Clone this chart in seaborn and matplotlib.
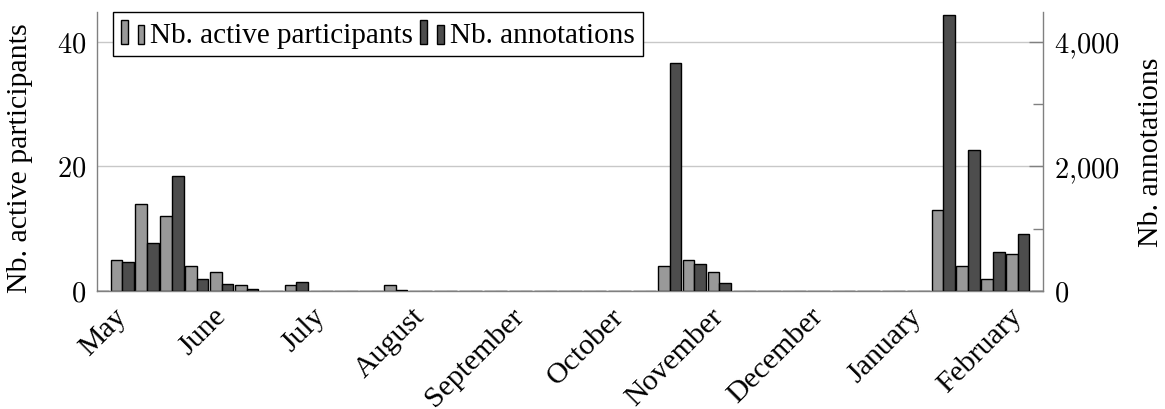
import numpy as np
import pandas as pd
import matplotlib
matplotlib.use("Agg")
import matplotlib.pyplot as plt
import seaborn as sns
from matplotlib.patches import Rectangle
from matplotlib.legend_handler import HandlerBase
from matplotlib.ticker import FuncFormatter

# ---------------- data ----------------
weeks = list(range(39))
participants = [0, 5, 14, 12, 4, 3, 1, 0, 1, 0, 0, 0, 1,
                0, 0, 0, 0, 0, 0, 0, 0, 0, 0,
                4, 5, 3,
                0, 0, 0, 0, 0, 0, 0, 0,
                13, 4, 2, 6, 0]
annotations = [0, 465, 775, 1840, 197, 117, 32, 0, 142, 0, 0, 0, 10,
               0, 0, 0, 0, 0, 0, 0, 0, 0, 0,
               3655, 435, 123,
               0, 0, 0, 0, 0, 0, 0, 0,
               4435, 2263, 620, 910, 0]
month_labels = ["May", "June", "July", "August", "September", "October",
                "November", "December", "January", "February"]
month_weeks = [1, 5, 9, 13, 17, 21, 25, 29, 33, 37]
series_labels = ["Nb. active participants", "Nb. annotations"]

# ---------------- style ----------------
sns.set_theme(style="white")
plt.rcParams["font.family"] = ["Liberation Serif", "DejaVu Serif"]
plt.rcParams["mathtext.fontset"] = "cm"
for k in ("text.color", "axes.labelcolor", "xtick.color", "ytick.color"):
    plt.rcParams[k] = "black"

LIGHT = "#999999"
DARK = "#4d4d4d"
AXC = "#808080"
FS = 21.5
LFS = 21
TFS = 20.5

bar_w = 0.467
df = pd.DataFrame({"week": weeks, "participants": participants,
                   "annotations": annotations})
df["x_left"] = df["week"] - bar_w / 2
df["x_right"] = df["week"] + bar_w / 2

fig = plt.figure(figsize=(11.65, 4.10), dpi=100)
ax = fig.add_axes([97.3 / 1165, 1 - 292 / 410, 945.4 / 1165, 279.3 / 410])
ax2 = ax.twinx()

sns.barplot(data=df, x="x_left", y="participants", native_scale=True,
            width=bar_w, color=LIGHT, saturation=1, edgecolor="black",
            linewidth=1, errorbar=None, ax=ax)
sns.barplot(data=df, x="x_right", y="annotations", native_scale=True,
            width=bar_w, color=DARK, saturation=1, edgecolor="black",
            linewidth=1, errorbar=None, ax=ax2)

# axes limits
ax.set_xlim(0, 38)
ax.set_ylim(0, 44.8)
ax2.set_ylim(0, 4480)

# x ticks
ax.set_xticks(month_weeks)
ax.set_xticklabels(month_labels, rotation=45, ha="right", va="center",
                   rotation_mode="anchor", fontsize=FS)
ax.set_xticks(weeks, minor=True)
ax.tick_params(axis="x", which="both", direction="out", length=7,
               width=1, color="#a0a0a0", pad=8)
ax.set_xlabel("")

# y ticks
fmt = FuncFormatter(lambda v, p: "$" + f"{v:,.0f}".replace(",", "{,}") + "$")
ax.set_yticks([0, 20, 40])
ax.yaxis.set_major_formatter(fmt)
ax.tick_params(axis="y", length=0, pad=8, labelsize=TFS)
ax2.set_yticks([0, 2000, 4000])
ax2.set_yticks([1000, 3000], minor=True)
ax2.yaxis.set_major_formatter(fmt)
ax2.tick_params(axis="y", which="major", direction="in", length=10,
                width=1, color=AXC, pad=8, labelsize=TFS)
ax2.tick_params(axis="y", which="minor", direction="in", length=7,
                width=1, color=AXC)

# grid
ax.yaxis.grid(True, color="#c8c8c8", linewidth=1)
ax.xaxis.grid(False)
ax.set_axisbelow(True)

# spines
for a in (ax, ax2):
    a.spines["top"].set_visible(False)
    for s in ("left", "right", "bottom"):
        a.spines[s].set_color(AXC)
        a.spines[s].set_linewidth(1)
ax2.spines["left"].set_visible(False)
ax2.spines["bottom"].set_visible(False)
ax.spines["right"].set_visible(False)

# labels
ax.set_ylabel(series_labels[0], fontsize=FS)
ax.yaxis.set_label_coords(-0.0677, 0.48)
ax2.set_ylabel(series_labels[1], fontsize=FS)
ax2.yaxis.set_label_coords(1.1008, 0.5)


# legend with two-bar glyphs
class TwoBarHandler(HandlerBase):
    def create_artists(self, legend, orig_handle, xdescent, ydescent,
                       width, height, fontsize, trans):
        fc = orig_handle.get_facecolor()
        w = width * 0.29
        r1 = Rectangle((-xdescent, -ydescent), w, height, facecolor=fc,
                       edgecolor="black", linewidth=1, transform=trans)
        r2 = Rectangle((-xdescent + width - w, -ydescent), w, height * 0.8,
                       facecolor=fc, edgecolor="black", linewidth=1,
                       transform=trans)
        return [r1, r2]


h1 = Rectangle((0, 0), 1, 1, facecolor=LIGHT)
h2 = Rectangle((0, 0), 1, 1, facecolor=DARK)
leg = ax2.legend(handles=[h1, h2], labels=series_labels,
                 handler_map={Rectangle: TwoBarHandler()},
                 loc="upper left", bbox_to_anchor=(0.0166, 1.0),
                 borderaxespad=0, ncol=2, fontsize=LFS, frameon=True,
                 fancybox=False, framealpha=1, edgecolor="black",
                 borderpad=0.28, handlelength=0.8, handleheight=0.9,
                 handletextpad=0.2, columnspacing=0.25)
leg.get_frame().set_linewidth(1)

fig.savefig("out.png", dpi=100)
